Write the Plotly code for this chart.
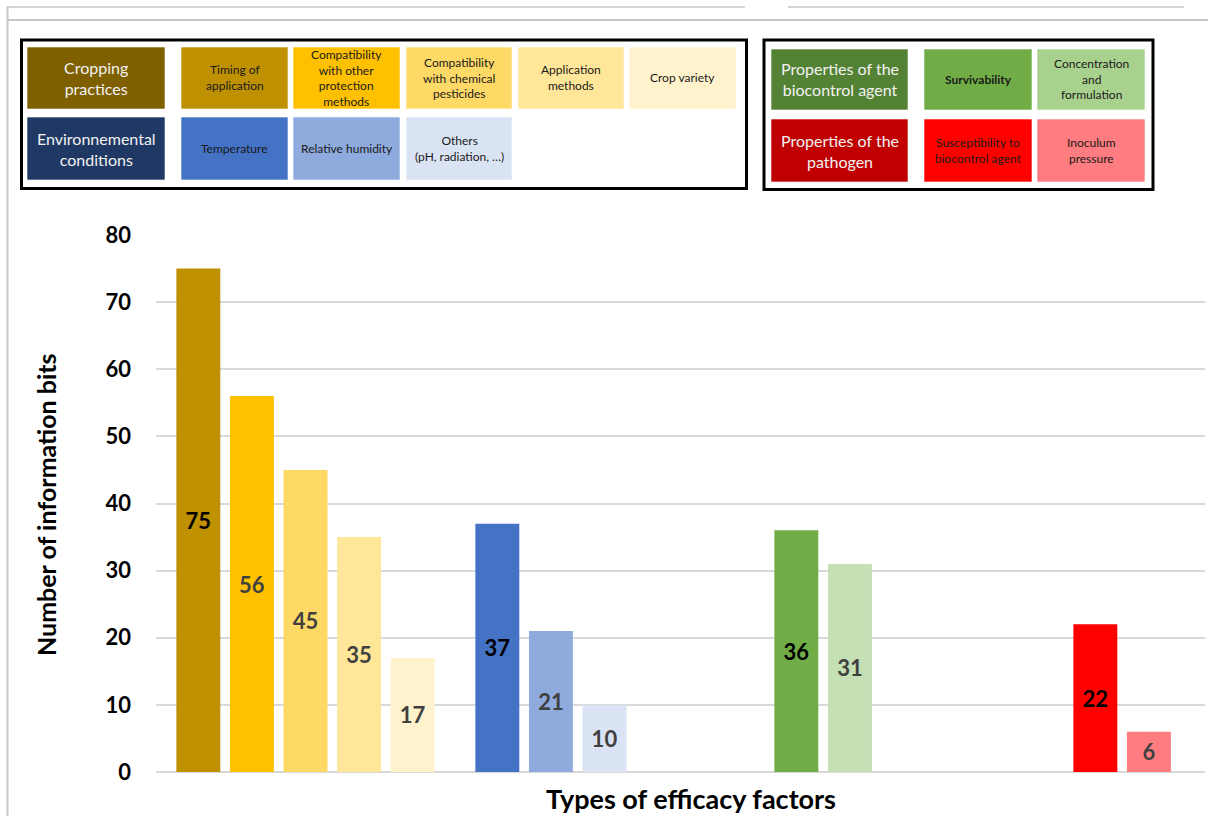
"""Efficacy factors bar chart with a two-box colour key above the plot."""

import plotly.graph_objects as go

# ---------------------------------------------------------------------------
# Data.
# ---------------------------------------------------------------------------
group_names = [
    "Cropping practices",
    "Environmental conditions",
    "Properties of the biocontrol agent",
    "Properties of the pathogen",
]

cropping_factors = [
    "Timing of application",
    "Compatibility with other protection methods",
    "Compatibility with chemical pesticides",
    "Application methods",
    "Crop variety",
]
cropping_values = [75, 56, 45, 35, 17]

environment_factors = ["Temperature", "Relative humidity", "Others (pH, radiation, …)"]
environment_values = [37, 21, 10]

biocontrol_factors = ["Survivability", "Concentration and formulation"]
biocontrol_values = [36, 31]

pathogen_factors = ["Susceptibility to biocontrol agent", "Inoculum pressure"]
pathogen_values = [22, 6]

y_ticks = [0, 10, 20, 30, 40, 50, 60, 70, 80]

# ---------------------------------------------------------------------------
# Styles.
# ---------------------------------------------------------------------------
FONT = "Lato"
cropping_colors = ["#bf9000", "#ffc000", "#ffd966", "#ffe699", "#fff2cc"]
environment_colors = ["#4472c4", "#8faadc", "#dae3f3"]
biocontrol_colors = ["#70ad47", "#c5e0b4"]
pathogen_colors = ["#ff0000", "#ff7c80"]
cropping_label = ["#000000", "#404040", "#404040", "#404040", "#404040"]
environment_label = ["#000000", "#404040", "#404040"]
biocontrol_label = ["#000000", "#404040"]
pathogen_label = ["#000000", "#404040"]

groups = [
    (cropping_values, cropping_factors, cropping_colors, cropping_label),
    (environment_values, environment_factors, environment_colors, environment_label),
    (biocontrol_values, biocontrol_factors, biocontrol_colors, biocontrol_label),
    (pathogen_values, pathogen_factors, pathogen_colors, pathogen_label),
]
n_slots = max(len(g[0]) for g in groups)

# Plot area in pixels (figure 1208 x 816).
W, H = 1208, 816
L, R, T, B = 156, 1205, 235, 772


def px(x):
    return (x - L) / (R - L)


def py(y):
    return (B - y) / (B - T)


fig = go.Figure()

for slot in range(n_slots):
    ys, colors, tcolors, names = [], [], [], []
    for vals, facs, cols, tcols in groups:
        if slot < len(vals):
            ys.append(vals[slot])
            colors.append(cols[slot])
            tcolors.append(tcols[slot])
            names.append(facs[slot])
        else:
            ys.append(None)
            colors.append("rgba(0,0,0,0)")
            tcolors.append("#000000")
            names.append("")
    fig.add_trace(
        go.Bar(
            x=group_names, y=ys,
            marker=dict(color=colors, line=dict(width=0)),
            text=ys, texttemplate="<b>%{text}</b>",
            textposition="inside", insidetextanchor="middle", textangle=0,
            textfont=dict(family=FONT, size=22, color=tcolors),
            customdata=names,
            hovertemplate="%{customdata}: %{y}<extra></extra>",
            showlegend=False,
        )
    )

# ---------------------------------------------------------------------------
# Colour key (two framed boxes above the plot).
# ---------------------------------------------------------------------------
shapes = []
annotations = []


def note(x, y, text, size, color, angle=0):
    annotations.append(dict(
        xref="paper", yref="paper", x=px(x), y=py(y),
        xanchor="center", yanchor="middle",
        text=text, showarrow=False, align="center", textangle=angle,
        font=dict(family=FONT, size=size, color=color),
    ))


def cell(x0, x1, y0, y1, color, text, size, font_color, bold=False):
    shapes.append(dict(
        type="rect", xref="paper", yref="paper",
        x0=px(x0), x1=px(x1), y0=py(y1), y1=py(y0),
        fillcolor=color, line=dict(color="rgba(255,255,255,0.6)", width=1),
        layer="above",
    ))
    note((x0 + x1) / 2, (y0 + y1) / 2,
         f"<b>{text}</b>" if bold else text, size, font_color)


def frame(x0, x1, y0, y1):
    shapes.append(dict(
        type="rect", xref="paper", yref="paper",
        x0=px(x0), x1=px(x1), y0=py(y1), y1=py(y0),
        fillcolor="white", line=dict(color="black", width=3), layer="below",
    ))


def hline(x0, x1, y, width):
    shapes.append(dict(
        type="line", xref="paper", yref="paper",
        x0=px(x0), x1=px(x1), y0=py(y), y1=py(y),
        line=dict(color="#c6c6c6", width=width),
    ))


# page frame lines
hline(7, 745, 7, 1.5)
hline(788, 1184, 7, 1.5)
hline(7, W, 20, 2)
shapes.append(dict(
    type="line", xref="paper", yref="paper",
    x0=px(7.5), x1=px(7.5), y0=py(7), y1=py(H),
    line=dict(color="#c6c6c6", width=2),
))

frame(21.5, 746.5, 40, 188.5)
frame(764, 1153, 40, 189.5)

HEAD = 16
SMALL = 12
WHITE = "#f2f2f2"
DARK = "#1a1a1a"

r1 = (47, 109)
r2 = (117, 180)
cell(27, 165, *r1, "#7f6000", "Cropping<br>practices", HEAD, WHITE)
cell(181, 288, *r1, cropping_colors[0], "Timing of<br>application", SMALL, DARK)
cell(293, 400, *r1, cropping_colors[1],
     "Compatibility<br>with other<br>protection<br>methods", SMALL, DARK)
cell(406, 512, *r1, cropping_colors[2],
     "Compatibility<br>with chemical<br>pesticides", SMALL, DARK)
cell(518, 624, *r1, cropping_colors[3], "Application<br>methods", SMALL, DARK)
cell(629, 736, *r1, cropping_colors[4], "Crop variety", SMALL, DARK)

cell(27, 165, *r2, "#1f3864", "Environnemental<br>conditions", HEAD, WHITE)
cell(181, 288, *r2, environment_colors[0], "Temperature", SMALL, DARK)
cell(293, 400, *r2, environment_colors[1], "Relative humidity", SMALL, DARK)
cell(406, 512, *r2, environment_colors[2], "Others<br>(pH, radiation, …)", SMALL, DARK)

q1 = (49, 110)
q2 = (119, 182)
cell(771, 908, *q1, "#548235", "Properties of the<br>biocontrol agent", HEAD, WHITE)
cell(924, 1032, *q1, biocontrol_colors[0], "Survivability", SMALL, DARK, bold=True)
cell(1037, 1145, *q1, "#a9d18e", "Concentration<br>and<br>formulation", SMALL, DARK)
cell(771, 908, *q2, "#c00000", "Properties of the<br>pathogen", HEAD, WHITE)
cell(924, 1032, *q2, pathogen_colors[0], "Susceptibility to<br>biocontrol agent", SMALL, DARK)
cell(1037, 1145, *q2, pathogen_colors[1], "Inoculum<br>pressure", SMALL, DARK)

# axis titles
note(691, 798, "<b>Types of efficacy factors</b>", 27, "black")
note(46, 505, "<b>Number of information bits</b>", 25, "black", angle=-90)

fig.update_layout(
    width=W, height=H,
    margin=dict(l=L, r=W - R, t=T, b=H - B, autoexpand=False),
    barmode="group", bargap=0.104, bargroupgap=0.18,
    plot_bgcolor="white", paper_bgcolor="white",
    shapes=shapes, annotations=annotations,
    font=dict(family=FONT),
)
fig.update_xaxes(
    range=[-0.5, -0.5 + (R - L) / 299.0],
    showticklabels=False, showgrid=False, zeroline=False, showline=False,
)
fig.update_yaxes(
    range=[0, 80], tickvals=y_ticks,
    tickfont=dict(family=FONT, size=22, color="black", weight="bold"),
    showgrid=True, gridcolor="#d9d9d9", gridwidth=1.5,
    zeroline=True, zerolinecolor="#d9d9d9", zerolinewidth=1.5,
    showline=False, ticklabelstandoff=24,
)

# the page's default body margin would shift the figure by 8px
fig.write_html(
    "out.html",
    config={"displayModeBar": False},
    post_script="document.body.style.margin='0';document.body.style.overflow='hidden';",
)
